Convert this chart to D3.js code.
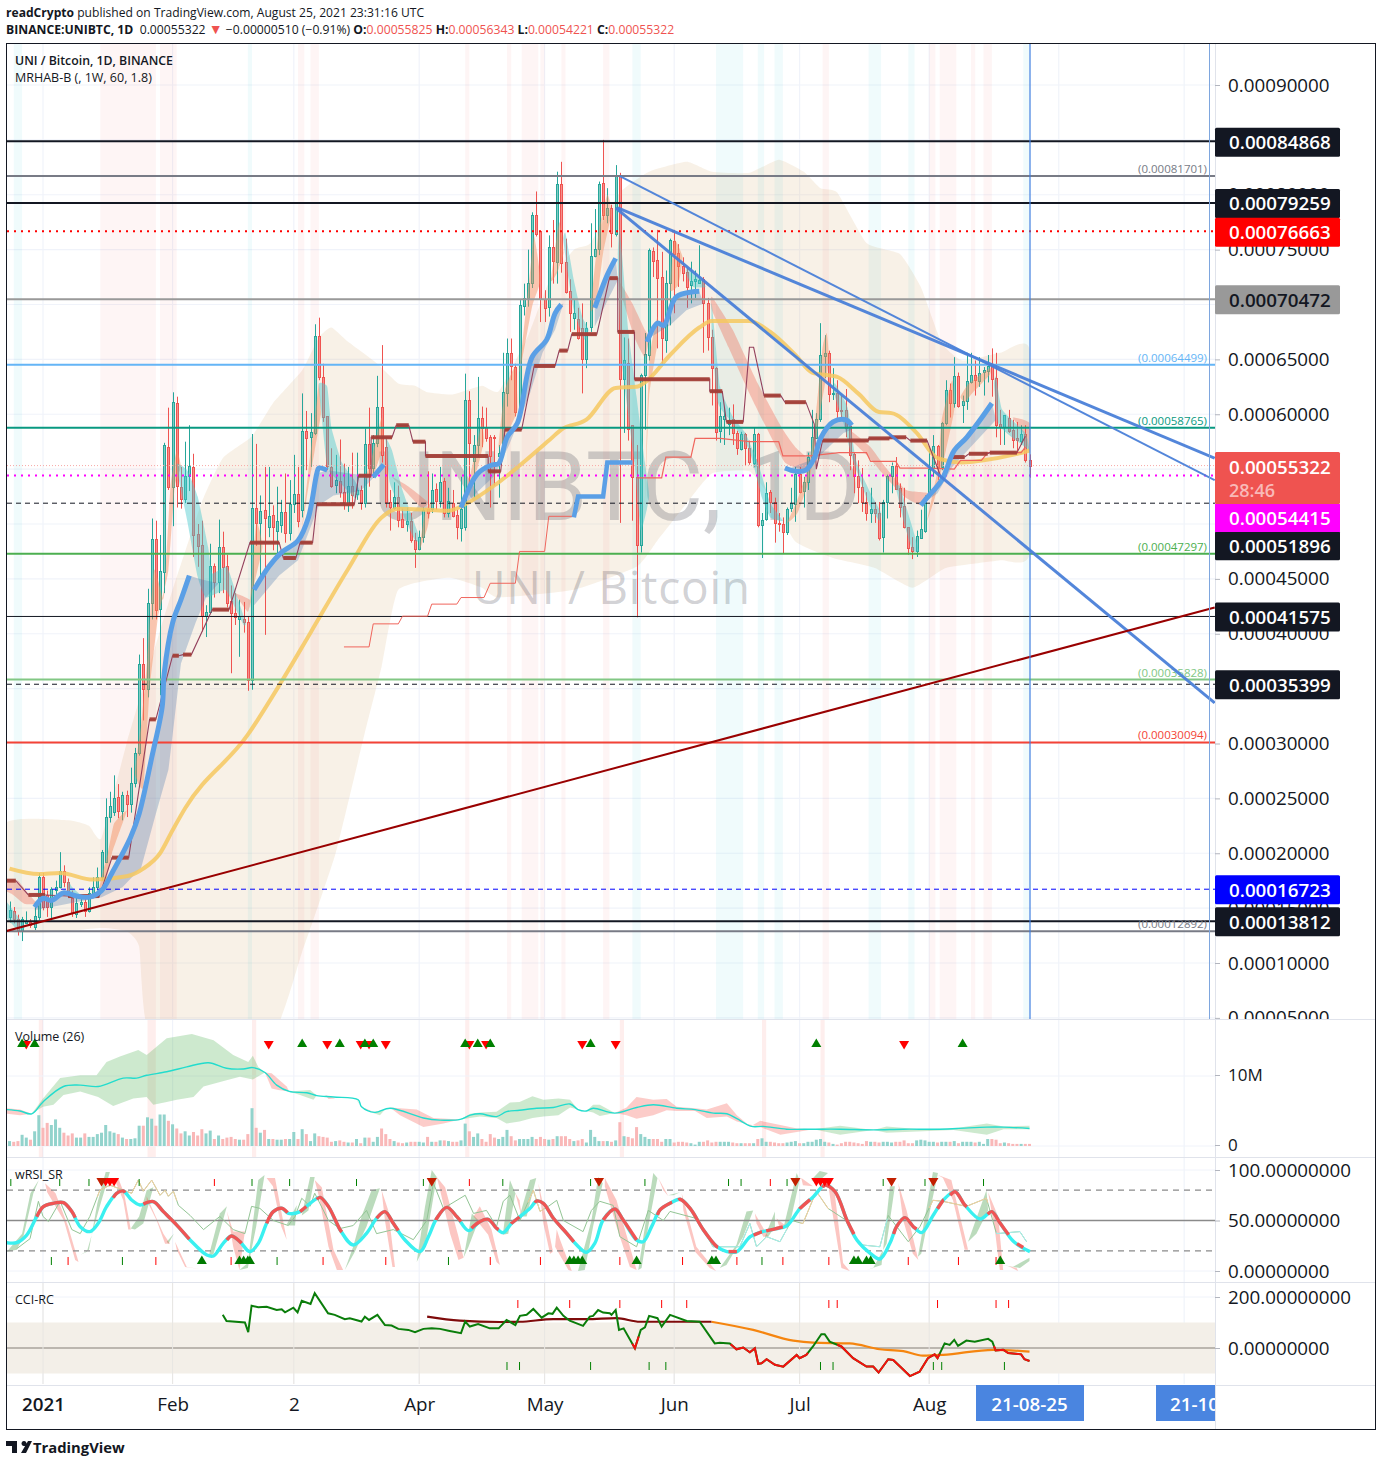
<!DOCTYPE html>
<html><head><meta charset="utf-8">
<script src="https://cdn.jsdelivr.net/npm/d3@7/dist/d3.min.js"></script>
<style>
html,body{margin:0;padding:0;background:#fff}
svg{display:block}
text{font-family:"Open Sans","Noto Sans",sans-serif}
</style></head><body><svg id="c" width="1382" height="1466"></svg>
<script>
// ---------- DATA (prices in units of 0.00001 BTC, day 0 = 2021-01-01) ----------
const firstDay=-8;
const opens=[14.2,14.7,14.0,12.9,13.6,13.7,13.3,14.2,
17.8,16.2,15.1,16.6,16.9,18.4,17.4,15.9,14.5,15.4,15.6,14.8,16.3,16.9,17.8,19.2,23.3,23.7,25.1,23.8,25.3,24.5,26.4,29.1,37.2,35.0,42.8,48.6,42.2,45.6,57.0,53.4,
61.0,53.4,52.3,54.4,55.2,49.1,48.1,41.6,42.0,46.2,44.7,47.9,46.2,43.0,41.9,41.3,41.3,41.1,35.8,51.5,50.1,51.3,49.7,50.8,49.4,49.9,51.1,49.2,51.8,52.7,
51.3,58.5,57.9,58.3,67.1,63.4,59.8,55.2,53.5,53.9,52.9,51.9,53.5,52.7,53.1,51.9,57.3,55.1,57.4,60.7,57.0,52.0,51.5,52.5,50.5,50.0,50.3,48.5,47.7,48.8,
51.4,51.4,53.2,52.1,53.9,51.0,51.9,50.8,49.7,49.7,61.3,55.7,57.2,59.7,58.8,57.9,57.9,56.2,56.5,62.0,65.6,64.3,60.2,69.9,70.6,72.0,78.2,76.7,70.5,69.7,
75.2,73.9,81.0,73.9,71.2,68.7,68.7,67.9,65.1,67.9,74.5,75.1,81.1,78.2,78.8,76.4,81.7,63.2,64.7,59.0,54.3,48.1,63.6,65.4,74.9,74.1,72.5,66.8,72.0,75.8,
74.7,73.5,73.0,71.7,72.1,71.9,72.3,70.1,67.0,64.2,58.4,59.5,59.1,59.6,58.3,56.8,58.2,56.9,55.6,58.2,49.9,50.4,52.9,52.0,50.1,50.0,49.3,51.4,51.9,54.6,
53.0,53.8,56.1,57.9,59.6,65.3,65.6,61.8,61.9,60.4,60.4,58.9,56.4,54.4,53.4,52.0,51.0,51.4,51.0,48.8,52.0,54.4,55.3,53.3,51.6,49.7,47.9,47.5,48.7,49.4,
52.5,55.1,57.1,55.2,59.2,62.2,61.0,63.5,60.8,61.2,63.0,63.6,63.1,63.8,63.9,64.4,63.3,59.1,58.8,59.7,58.6,57.8,57.6,58.2,55.825];
const highs=[15.6,15.1,14.4,14.2,14.7,14.0,15.1,18.2,
18.2,16.6,16.9,17.5,20.1,18.9,17.7,16.6,16.0,16.0,16.0,16.9,17.8,18.7,20.3,25.0,25.6,27.1,26.3,25.6,25.7,27.8,29.6,38.1,39.6,44.1,50.5,50.3,49.0,57.4,60.6,62.0,
61.6,55.2,57.5,59.0,56.4,50.0,50.3,42.6,48.2,46.4,50.4,49.3,47.2,44.4,43.7,43.1,42.9,41.6,58.2,57.3,52.6,55.2,55.2,51.7,53.4,52.2,54.6,54.0,56.3,55.2,
61.9,60.3,60.1,68.2,68.8,64.6,59.8,56.9,56.3,57.7,55.5,55.2,56.5,56.5,53.5,58.7,60.6,58.1,63.5,66.3,57.8,53.1,53.8,53.5,51.4,51.5,51.0,49.2,49.4,51.5,
54.8,54.6,53.7,55.2,54.2,53.3,53.1,51.3,54.3,63.7,62.1,58.1,63.4,60.7,60.6,58.1,58.1,57.2,65.6,66.9,66.9,64.6,70.4,71.9,75.0,78.4,80.3,76.7,71.3,76.3,
77.7,82.1,83.0,76.0,72.3,70.4,69.7,70.1,68.4,77.4,78.7,81.2,85.0,80.6,79.1,82.7,82.0,67.0,66.9,59.0,57.2,63.7,67.4,75.1,75.2,76.8,74.8,73.1,76.0,76.8,
75.5,74.3,73.3,73.9,73.1,75.4,72.5,70.6,67.7,64.3,61.1,60.6,60.6,60.9,58.5,58.4,58.3,57.6,58.8,58.3,51.0,53.8,53.1,52.4,51.0,50.6,51.5,53.3,55.2,55.2,
54.3,56.5,60.4,60.1,68.3,67.2,65.8,64.2,63.1,61.7,62.3,59.0,56.5,55.8,55.1,52.9,53.3,52.0,52.0,52.2,54.5,55.6,56.1,53.7,53.3,49.7,48.8,49.4,51.3,52.6,
56.9,58.1,57.2,59.3,63.1,62.8,65.2,63.8,61.7,65.6,65.6,64.9,65.2,64.3,65.4,66.0,65.6,60.4,59.9,60.4,59.5,59.3,59.0,59.0,56.343];
const lows=[13.7,13.6,12.5,12.0,13.6,13.2,13.0,13.9,
14.8,14.2,13.9,16.0,16.8,16.9,16.0,14.2,14.1,15.1,14.2,14.6,16.2,16.6,17.5,19.1,22.8,23.4,23.2,23.0,23.3,23.7,26.0,28.9,32.1,34.2,41.3,41.3,34.4,43.7,53.1,49.8,
51.5,51.4,51.9,53.0,47.0,46.1,40.2,39.7,41.9,43.3,43.7,43.7,42.4,36.4,40.8,37.9,40.1,34.8,34.9,48.0,44.9,39.9,48.8,47.6,47.3,49.2,48.3,48.5,51.0,49.7,
50.6,54.9,55.2,58.1,63.1,59.3,54.9,53.3,52.8,52.4,51.3,51.1,51.4,52.2,51.3,51.5,53.4,54.2,57.0,55.6,51.5,49.4,51.3,49.7,49.7,49.3,48.3,46.0,47.6,48.3,
50.5,51.0,51.3,51.5,50.6,50.6,50.6,48.6,48.4,49.4,53.7,52.4,56.1,57.0,57.5,51.5,53.5,52.4,56.5,60.7,63.1,59.8,59.6,69.0,69.8,71.5,76.2,68.4,68.4,68.9,
71.9,71.9,72.9,71.0,67.5,67.7,66.8,61.9,64.2,67.5,74.3,74.5,77.7,77.4,75.2,76.2,50.1,58.3,57.6,50.3,41.5,47.4,58.6,64.9,72.5,66.0,64.6,65.6,68.1,69.2,
71.6,72.1,69.7,70.1,70.6,71.9,65.6,65.8,60.8,57.6,57.4,57.2,58.1,57.2,56.3,56.7,55.3,55.4,55.2,49.7,46.9,50.3,51.0,48.3,49.3,47.3,49.0,51.1,50.2,52.8,
51.5,53.1,56.0,57.8,59.3,63.3,61.1,61.3,59.5,59.7,57.9,54.9,52.8,51.9,51.1,50.3,50.1,50.1,48.5,47.4,50.5,52.8,53.1,50.6,49.6,47.2,46.8,47.0,48.7,49.2,
52.4,54.3,54.0,54.9,59.0,59.7,60.6,60.6,59.2,60.4,62.8,61.7,62.5,61.7,62.9,61.6,57.9,57.2,57.2,58.3,56.9,56.4,57.2,55.6,54.221];
const closes=[14.8,14.0,12.9,14.0,13.8,13.4,14.3,17.8,
15.1,15.1,16.7,16.9,18.4,17.4,16.5,14.5,15.5,15.6,14.8,16.4,16.9,17.8,20.1,23.3,24.3,25.0,23.8,25.3,24.5,26.4,29.1,37.2,34.9,42.8,48.6,42.1,45.7,57.2,53.4,61.1,
53.4,52.3,54.4,55.3,49.0,48.0,41.6,42.0,46.2,44.7,47.9,46.1,42.8,41.9,41.5,41.6,41.0,35.8,51.5,50.1,51.2,50.6,50.7,49.7,50.3,51.1,49.2,51.8,52.7,50.2,
58.5,57.9,58.4,67.1,63.4,59.8,55.2,53.5,54.0,52.9,51.9,53.5,52.7,53.1,51.9,57.3,55.1,57.4,60.7,56.3,52.0,51.5,52.5,50.4,49.8,50.3,48.6,47.7,48.8,51.3,
51.0,53.1,52.1,53.8,51.0,52.1,50.7,49.7,51.4,61.3,57.4,57.2,59.7,58.8,57.8,56.2,57.8,56.5,62.0,65.6,64.4,60.2,70.0,70.6,72.0,78.2,76.5,70.5,69.7,75.2,
73.9,81.0,73.8,71.2,69.2,69.2,67.0,65.1,67.9,74.4,75.1,81.0,78.2,78.8,76.5,81.7,63.2,64.9,58.7,54.3,48.1,63.6,65.5,75.0,74.0,72.5,66.9,72.0,75.9,74.6,
73.5,72.9,71.6,72.1,72.3,72.2,70.1,67.0,64.2,58.4,59.8,59.8,59.5,58.3,56.9,58.2,56.9,55.6,58.2,49.9,50.4,52.8,52.0,50.1,50.0,49.3,51.4,51.9,54.6,53.0,
53.8,56.1,57.9,59.6,65.4,65.6,61.9,61.9,60.3,60.3,58.8,56.3,54.4,53.4,52.0,51.0,51.4,51.0,48.7,52.0,54.4,55.3,53.2,51.6,49.7,47.8,47.5,48.9,49.5,52.4,
55.0,57.1,55.2,59.2,62.2,61.0,63.5,60.8,61.2,63.0,63.6,63.1,63.8,64.0,64.4,63.2,59.0,58.8,59.9,58.5,57.7,57.6,58.2,55.8,55.322];
const volumes=[.7,.6,.7,1.6,1.2,.9,2.1,4.4,
2.6,3.3,3.0,3.8,2.6,1.9,1.5,1.8,1.2,1.2,1.8,1.3,1.3,1.7,1.9,3.0,2.1,1.9,1.7,1.2,1.0,1.0,1.1,2.9,2.9,4.1,3.9,2.9,4.5,4.5,3.6,3.1,
2.5,1.8,2.1,1.5,2.0,1.5,2.4,1.8,2.2,1.0,1.5,1.0,1.2,1.3,1.0,.9,.9,1.7,5.4,2.6,1.9,2.3,1.0,1.0,.9,.9,1.0,1.0,2.0,1.0,
2.4,1.7,.7,1.8,1.4,1.3,1.2,.6,.7,.8,.6,.5,.5,1.0,.4,1.2,1.2,.6,1.3,2.5,1.7,1.0,.7,.5,.4,.5,.6,.6,.6,.5,
1.3,.6,.6,.8,.8,.7,.6,.6,.8,3.2,2.1,1.3,1.8,1.0,.6,1.7,1.2,1.0,1.3,2.3,1.4,.8,1.0,1.0,1.0,1.3,1.0,1.3,1.0,.9,
1.0,1.4,1.4,1.4,1.0,.7,.8,1.0,.5,2.3,1.3,.7,.7,.7,.6,.8,3.4,1.4,1.3,1.1,2.7,1.7,1.3,1.0,1.0,1.0,.6,1.0,1.0,.5,
.6,.6,.5,.4,.2,.6,.6,.8,.5,.6,.6,.6,.6,.5,.4,.4,.4,.4,.4,1.0,1.1,.6,.6,.5,.4,.4,.5,.6,.7,.4,
.4,.6,.6,.9,1.0,.6,.5,.3,.2,.4,.6,.6,.5,.4,.3,.7,.6,.6,.5,.6,.6,.5,.6,.6,.8,.4,.4,.8,.9,.8,
.6,.6,.5,.6,.6,.6,.7,.4,.6,.6,.6,.5,.6,.3,1.0,1.0,.9,.4,.5,.4,.3,.3,.3,.3,.3];

const emaLine=[[-8,18.6],[-1,18.1],[4,18.2],[12,17.6],[20,17.9],[24,18.6],[28,20],[31,22.1],[34,24.1],[49,30.8],[57,35.6],[64,40.1],[73,45.9],[81,50.6],[85,51.4],[92,51.3],[97,51.2],[101,51.8],[109,53.8],[121,57.6],[124,58.6],[130,59.5],[137,62.4],[142,62.5],[144,62.9],[150,65.4],[157,67.9],[160,68.5],[164,68.5],[169,68.5],[174,67.5],[180,65.4],[184,63.8],[190,63.4],[195,61.9],[200,60.2],[203,60.1],[209,58.3],[214,56],[220,55.6],[225,55.8],[232,56.3],[236,56.7]];
const bandUpper=[[-9,22.7],[6,23],[11,22.5],[14,21.4],[20,30],[27,39],[31,44],[38,52],[43,56],[50,58],[55,61],[62,64],[66,67],[69,67.9],[73,66.6],[80,64.6],[85,62.8],[89,62.6],[92,62],[98,61.8],[105,62.6],[109,62.1],[116,67.1],[121,72],[127,75],[131,75.6],[138,80.2],[145,82.1],[154,83],[160,82.1],[169,82],[176,83.2],[182,82.1],[186,80.6],[190,80.2],[197,75.6],[205,74.6],[210,71.6],[215,66.5],[220,64.9],[229,65.6],[236,65.9]];
const bandLower=[[236,47.3],[229,46.7],[216,46],[208,44.2],[199,46],[189,46.9],[180,48.4],[174,52.4],[169,54.8],[160,54.6],[154,51.9],[147,48.5],[142,46.1],[127,44],[109,43.3],[105,44.2],[97,45.1],[85,44],[81,37],[77,31],[70,20],[62,11],[54,3],[26,3],[23,11.5],[20,12.9],[14,13.2],[-9,13]];

const blueLines=[
[[-2,15.1],[0,15.9],[2,15.7],[5,16.4],[8,16.1],[11,16],[14,16.6],[16.5,18.2],[21,21.5],[23,23.6],[26,28.7],[28.5,33.3],[29,36.4],[31,41],[33,43.1],[35,45.3]],
[[50.5,44],[54,46.1],[57,47.4],[61,48.5],[63.5,50.6],[65.5,54.6],[66,55.1],[68,54.9]],
[[79,54.3],[81.5,55.4]],
[[100,51.5],[104,54.6],[107.5,55.4],[109,55.5],[111,57.9],[113.5,59.2],[117,65.2],[120.5,66.8],[122.5,69.2],[124,70]],
[[132,69.7],[135,72.7],[137,74.2]],
[[144.5,66.6],[147,68.3],[148.5,68.1],[151.5,70.7],[157,71.2]],
[[177.5,55.1],[180,54.8],[182.5,54.9],[184.5,56],[186,57.8],[189,59.3],[192,59.5],[193.5,59]],
[[210,51.7],[211.5,52.4],[215,54],[218,56.7],[221,57.9],[227,61]]];
const blueSteps=[[127,50.6],[128,52.5],[134,52.5],[135,55.6],[141,55.6]];
const blueShades=[
[[-2,15.1],[0,15.9],[2,15.7],[5,16.4],[8,16.1],[11,16],[14,16.6],[16.5,18.2],[21,21.5],[23,23.6],[26,28.7],[28.5,33.3],[29,36.4],[31,41],[33,43.1],[35,45.3],[37.5,45],[42,44.6],[39,43.3],[36.5,41],[33,37.3],[31.5,32.4],[30,27.6],[27,23.6],[23.5,18.7],[19,16.9],[14,16],[-2,14.8]],
[[50.5,44],[54,46.1],[57,47.4],[61,48.5],[63.5,50.6],[65.5,54.6],[68,54.9],[79,54.3],[81.5,55.4],[81.5,55.2],[76,53],[69.5,52.6],[66,51.7],[61,46.7],[56.5,45.3],[50.5,42.6]],
[[100,51.5],[104,54.6],[107.5,55.4],[109,55.5],[111,57.9],[113.5,59.2],[117,65.2],[120.5,66.8],[122.5,69.2],[124,70],[124.5,70.1],[122.5,67.7],[119.5,65.6],[116.5,61.9],[111.5,57.2],[108,54.4],[102,52.2],[100,51.3]],
[[132,69.7],[135,72.7],[137,74.2],[137.5,72.2],[135.5,70.7],[132,68]],
[[144.5,66.6],[147,68.3],[148.5,68.1],[151.5,70.7],[157,71.2],[158,70.1],[154,69.5],[150,68.1],[144.5,66.8]],
[[177.5,55.1],[180,54.8],[182.5,54.9],[184.5,56],[186,57.8],[189,59.3],[192,59.5],[193.5,59],[193.5,58.6],[191.5,58.3],[185.5,56.1],[177.5,54.9]],
[[210,51.7],[211.5,52.4],[215,54],[218,56.7],[221,57.9],[227,61],[228,59.5],[217.5,55.2],[214,52.8]]];
const tealShades=[
[[-9,15.7],[-4.5,13.4],[-5.5,12.8],[-9,14.3]],
[[6,17.5],[7,16.9],[9,16.2],[9,15.9],[6,16.3]],
[[32,55.5],[34.5,54.9],[37,52.5],[39.5,47.9],[40.5,45.5],[44,46.1],[46.5,43.3],[48.5,41],[48,40.8],[45,43.1],[43.5,44],[39,43.3],[37,45.2],[34.5,50.3],[32.5,54]],
[[66,62.8],[68,62.5],[69,58.8],[71.5,55.6],[74.5,54],[76,52.8],[74.5,52.4],[70.5,54],[68,55.2],[66.5,60.4]],
[[82,57.9],[83.5,56.7],[86,53.1],[89.5,49.4],[90,48.5],[89,48.5],[86,51],[83,53.7],[82,57.4]],
[[125,76.5],[127,72.2],[129,68.9],[130.5,67.7],[129.5,66.8],[127,69.5],[125.5,72.9],[124.5,75.9]],
[[138,76.8],[140,67.7],[142,61.6],[144,55.6],[145,52.5],[143,49.4],[141.5,55.6],[138.5,64.7],[137.5,73.8]],
[[154,73.4],[157,72.5],[158.5,71.6],[155.5,71.6],[154,72.7]],
[[160,70.1],[162,62.5],[165,59.8],[168,58.3],[171,55.6],[174,51.9],[177,50.3],[174,50.6],[172,52.4],[169,56.7],[165,59.2],[161.5,61],[160,67]],
[[189.5,62.8],[192.5,60.6],[194.5,55.8],[198,52.8],[200.5,51],[200,50.3],[197.5,51.9],[193.5,56.1],[191.5,59.2],[189,62.2]],
[[205,53.4],[207.5,50.3],[209.5,47.6],[208,47.6],[206,50.1],[204,53.4]],
[[228,63.4],[229.5,60.4],[235,58.3],[236,56.7],[235,57],[230.5,58.3],[228.5,59.2],[227.5,62.7]]];
const salmonShades=[
[[-9,17.5],[-6,17.5],[-3.5,16.3],[-1.5,15.4],[-4.5,15.4],[-7.5,16.3],[-9,16.6]],
[[46,43.7],[49.5,43.1],[49,42],[46.5,43.3]],
[[83.5,54.3],[87.5,53.4],[92,52],[90.5,51.5],[85,53.7]],
[[138,72],[141,70.1],[144,67.7],[145,67],[144,65.2],[141.5,67],[138.5,70.7]],
[[160,70.7],[165,67.7],[171,62.8],[177,58.6],[180,57],[184,55.6],[182.5,54.9],[177.5,55.6],[172.5,59.2],[169,61.9],[164,66.1],[160,69.5]],
[[193.5,58.4],[198,57],[201.5,55.2],[206.5,53.1],[212,52.8],[210,51.7],[206,52.5],[201.5,54.3],[197.5,56.1],[193.5,57.6]],
[[232,59.7],[236,59.2],[236,56.5],[234.5,58.3]]];
const orangeShades=[
[[13,16],[14,17.8],[15.5,20],[17,22.7],[20,23.9],[19,22.7],[16.5,20],[15,17.3]],
[[22,27.3],[23.5,31.8],[25,37.9],[26.5,45.8],[28.5,43.3],[27.5,41.5],[25.5,34.9],[24,26]],
[[29,43.7],[30.5,53.4],[32,56.7],[33,55.2],[31.5,53.4],[30,45.8],[28.5,43.2]],
[[49.5,42.4],[51,50.1],[52.5,47.9],[50,43.7]],
[[62,49.7],[63.5,54.9],[65,59.5],[66,62.8],[66.5,60.1],[65,56.7],[63.5,53.4]],
[[77,54],[78.5,55.8],[81,59.7],[81.5,57.4],[79.5,54.9]],
[[90,47.6],[91.5,51.3],[93,51.9],[92,49.7]],
[[101,52.2],[103.5,56.7],[105,59.2],[105.5,57.6],[104,55.2]],
[[109,57],[110.5,62.2],[113,64.3],[113.5,60.4],[111.5,58.6]],
[[114,63.8],[116.5,72.9],[117.5,76.2],[119,72.2],[117,69.8]],
[[121.5,72.2],[123.5,77.5],[124.5,74.7],[123,72.9]],
[[131,69.5],[133,76.8],[135,80],[136,78.4],[134,74.7],[132.5,70.4]],
[[144,51.5],[145,64.7],[147,68.9],[147,66.5],[145,61.6]],
[[150,71.3],[151,75.9],[153,74.3],[152,71.8]],
[[178,50.1],[180.5,52.2],[183.5,55.8],[185,60.4],[186.5,66.1],[187.5,67.4],[188,64.9],[186,60.4],[183.5,54.3],[180.5,51]],
[[211.5,50.3],[214,54.9],[215,59.5],[217.5,63.1],[218,60.4],[216,56.7],[213.5,52.6]],
[[219.5,61.6],[221.5,62.8],[226.5,64.2],[226.5,63.6],[222.5,62],[220.5,61.1]]];
// trailing stop plateaus: [day from, day to, price]
const stopFlats=[[-9,-6.5,17.5],[-3.5,.5,16.2],[6,13.5,16.1],[16.5,20.5,19.6],[25.5,27,32.2],[31,32.5,38],[33.5,35.5,38.1],[40.5,44.5,42.2],[49.5,56.5,48.3],[57.5,60.5,46.9],[61.5,64.5,48.3],[65.5,74.5,51.8],[75.5,78.5,54.4],[78.5,83.5,57.9],[84.5,87.5,59],[88.5,91.5,57.5],[91.5,106.5,56.2],[106.5,109.5,54.8],[110.5,114.5,58.6],[117.5,122.5,64.4],[123.5,125.5,65.8],[126.5,132.5,67.3],[135.5,137.5,72.4],[137.5,141.5,67.5],[141.5,159.5,63.2],[159.5,162.5,62.1],[163.5,167.5,59.3],[172.5,176.5,61.7],[177.5,182.5,61.1],[186.5,197.5,57.6],[197.5,202.5,57.8],[202.5,206.5,57.9],[207.5,211.5,57.6],[217.5,220.5,56.1],[221.5,226,56.4],[226.5,233,56.5]];
const stopExtras=[[169,66.1],[170,66.1],[184.5,59.1],[185,55],[215,54.1],[235,58]];
const redStep=[[72,38.8],[78,38.8],[79,40.9],[85,40.9],[86,41.6],[92,41.6],[93,42.7],[99,42.7],[100,43.3],[105.5,43.3],[107,44.6],[113,44.6],[114,47.5],[120,47.5],[121,50.7],[127,50.7]];
const redStep2=[[142,54.2],[148,54.2],[149,56.1],[155,56.1],[156,57.8],[162,57.8],[169,57.5],[176,57.5],[177,56.2],[183.5,56.2],[190.5,56.5],[197,56.5],[198,55.7],[204,55.7],[205,55.1],[212,55.1],[218,55],[219.5,55.8],[224.5,55.8],[226,56.5],[234,56.5],[235,57]];
const levelRows=[[84.868,'#131722',2,''],[81.701,'#787b86',2,''],[79.259,'#131722',2,''],[76.663,'#ff0000',2,'2 5'],[70.472,'#999999',2,''],[64.499,'#64b5f6',2,''],[58.765,'#089981',2,''],[55.322,'#f7a9a7',1,'1 2'],[54.415,'#ff00ff',2,'2 5'],[51.896,'#131722',1,'5 4'],[47.297,'#4caf50',2,''],[41.575,'#131722',1,''],[35.828,'#81c784',2,''],[35.399,'#131722',1,'5 4'],[30.094,'#f44336',2,''],[16.723,'#0000ff',1,'5 4'],[13.812,'#131722',2,''],[12.892,'#787b86',2,'']];
const levelNotes=[[81.701,'(0.00081701)','#787b86'],[64.499,'(0.00064499)','#64b5f6'],[58.765,'(0.00058765)','#089981'],[47.297,'(0.00047297)','#4caf50'],[35.828,'(0.00035828)','#81c784'],[30.094,'(0.00030094)','#f44336'],[12.892,'(0.00012892)','#787b86']];
const trendThick=[[[137.5,78.8],[280.3,56]],[[137,78.8],[280.3,33.7]]];
const trendThin=[[[138,81.7],[280.3,54]]];
const trendSupport=[[-8.9,12.9],[280.3,42.4]];
const priceTicks=[5,10,15,20,25,30,35,40,45,50,55,60,65,70,75,80,85,90];
const monthTicks=[[0,'2021'],[31,'Feb'],[60,'2'],[90,'Apr'],[120,'May'],[151,'Jun'],[181,'Jul'],[212,'Aug']];
const extraGridDays=[243,273];
// x-ranges of the highlight stripes, in days
const pinkStripes=[[13.7,27],[28,32],[61,62.5],[64,66],[101,102],[111,112],[114.5,118.5],[119,120],[124,125],[134,135.5],[186.5,188],[212,213.5],[214.5,218.5],[222,223],[225,227]];
const cyanStripes=[[-7,-5],[49,50],[141,143],[161,167.5],[171,172.5],[175,177],[197.5,200.5],[207,208.5],[234.5,236]];
const volStripes=[[-1,0],[25,27],[50,51],[101,102],[138,139],[172,173],[186,187]];
const volGreenPolys=[
[[-2.7,4.6],[0,6.8],[4.1,9.7],[8.9,10.1],[12.8,10.1],[15.2,12],[18.4,12.8],[22.8,13.7],[24.8,13],[29.6,15.4],[35.6,16],[40.8,15.1],[45.5,13],[49.1,12],[50.2,12.9],[51.5,11.3],[53.1,10.5],[50.2,9.5],[47.1,9.9],[43.9,9.4],[38.4,8.5],[36,7],[32,6.6],[29.6,6.3],[26.4,5.9],[24.8,7],[21.6,6.8],[16.8,5.7],[13.2,7],[8.9,7.8],[4.9,7.3],[2.5,5.9],[0,5.6]],
[[58.9,7.8],[63.9,8],[65.5,7.2],[64.7,6.6],[61.5,7.3]],
[[74.7,7],[76.2,5.6],[75.4,6.2]],
[[78.6,4.8],[80.6,4.4],[81.8,5.2]],
[[99.8,3.8],[102.2,4.6],[104.5,4.8],[108.5,4.9],[111.7,6.2],[114,6.3],[117.1,7.1],[119.7,6.6],[123.3,6.8],[126.1,6.6],[128,5.2],[126.1,5.5],[123.3,4.4],[119.7,4.2],[117.1,4],[114,3.5],[110.9,3.2],[108.5,4],[104.5,4.2]],
[[130,5],[131.6,5.9],[133.2,5.9],[136.8,4.7],[133.2,4.3],[131.6,4.8]],
[[184.3,2.4],[190.7,2.9],[198.7,2.3],[201.8,2.8],[209.8,2.4],[217.8,2.5],[225.8,3.2],[229.8,2.8],[236,2.9],[236,2.4],[229.8,2.4],[225.8,1.6],[217.8,2.3],[201.8,1.9],[198.7,2.3],[190.7,1.6]]];
const volPinkPolys=[
[[-8.7,5.4],[-5.5,5.2],[-2.7,4.6],[-5.5,4.4],[-8.7,4.6]],
[[53.1,10.5],[54.7,10.4],[58.3,8.5],[58.9,7.8],[56.3,8],[54.7,8.2]],
[[67.5,7.3],[69.9,6.8],[68.3,6.7]],
[[76.2,5.6],[79.4,4.8],[78,5]],
[[83,5.5],[89.4,5.2],[93.4,4],[99.8,3.8],[95.8,3.2],[91,2.7],[85.4,4.4]],
[[136.8,4.7],[139.6,5.5],[142,7],[146,6.6],[149.2,6.7],[151.6,5.6],[156,5.4],[158.8,5.2],[163.6,6.1],[166,4.4],[169.2,2.8],[171.6,3.6],[176.4,3],[180.4,2.5],[184.3,2.4],[176.4,1.6],[171.6,2.7],[166,3.5],[163.6,4.2],[158.8,4],[156,5],[151.6,5],[149.2,5.1],[146,4.4],[142,3.9],[139.6,4.4]]];
const volMA=[[-8.7,5.2],[-5.5,5],[-2.7,4.6],[0,6.3],[4.9,8.5],[8.9,8.7],[13.2,8.5],[19.2,9.7],[22.4,9.7],[24.8,10.1],[29.6,10.6],[34.4,11.3],[39.6,11.9],[43.9,11.1],[47.9,11],[50.2,11.2],[53.1,10.5],[55.9,8.7],[58.9,7.8],[63.1,7.6],[65.5,7.2],[69.5,7],[75.4,6.6],[76.2,5.6],[79.4,4.8],[83,5.4],[91,4],[95,3.7],[99.8,3.8],[102.2,4.4],[104.5,4.6],[108.5,4.2],[110.9,4.9],[114,5.1],[118.1,5.4],[122.1,5.5],[126.1,6],[128,5.2],[130,5],[131.6,5.4],[136.8,4.7],[142,5.5],[146,5.9],[151.6,5.4],[156,5.2],[160.4,4.7],[163.6,4.6],[166,3.9],[169.5,2.8],[172.3,2.8],[177.9,2.4],[184.3,2.4],[190.7,2.4],[198.7,2.3],[205.8,2.4],[213.8,2.4],[218.6,2.5],[225.8,2.7],[229.8,2.7],[236,2.5]];
const volUpDays=[-5,-2,62,71,77,79,101,104,107,131,185,220];
const volDownDays=[-4,54,68,76,78,82,102,106,129,137,206];

const rsiMain=[[-8.7,28.1],[-6.3,28.1],[-3.9,35.6],[-1.5,53.8],[.1,63.7],[2.5,67],[4.9,67.7],[6.9,58.8],[8.9,43.9],[11.2,39],[13.2,47.2],[15.2,63.7],[17.6,76.9],[19.2,79.2],[21.2,70.3],[23.2,65.4],[26.4,68.7],[28.8,58.8],[32,45.5],[35.2,30.7],[39.2,15.8],[40.8,14.9],[43.1,27.4],[45.1,34.7],[47.1,29.1],[49.5,19.2],[51.5,27.4],[53.5,47.2],[55.1,58.8],[57.1,62.1],[58.7,57.1],[61.5,58.8],[63.9,67],[66.3,72.9],[68.3,63.7],[71.1,40.6],[74.2,25.8],[77.4,37.3],[79.8,52.2],[81.8,58.8],[83.8,47.2],[86.6,30.7],[90.2,19.2],[92.2,34],[94.2,52.2],[96.6,63],[99,53.8],[101.8,40],[104.5,48.9],[106.5,51.2],[108.5,42.3],[110.1,38],[112.1,47.2],[114.1,53.8],[116.5,62],[118.1,69.3],[119.7,67],[122.1,52.2],[125.3,37.3],[127.3,27.4],[130,18.5],[132,27.4],[134,50.5],[136.8,61.4],[138.8,50.5],[142,30.7],[143.6,29],[145.6,43.9],[147.6,60.4],[150,67],[152.4,71],[154.8,62],[158,40.6],[161.2,24.1],[163.6,19.2],[166,19.2],[169.2,34],[171.6,38.3],[174.7,41.3],[177.9,44.6],[181.1,62],[184.3,73.6],[187.1,85.1],[189.5,78.5],[192.3,50.5],[194.7,30.7],[197.9,17.5],[200.2,11.9],[202.6,27.4],[204.2,43.9],[206.2,52.8],[208.2,43.9],[210.2,38],[213,55.4],[215.4,70.3],[218.2,78.5],[220.5,65.4],[224.2,51.5],[227,58.8],[229,47.2],[232.2,29.1],[236.1,19.2]];
const rsiRed=[[-1.5,7.7],[16.8,19.6],[24,35],[44,47.5],[53.5,58.5],[61.5,63],[65.5,71.5],[79.8,85],[94,100],[102.5,109],[112,114],[117.7,127],[134,142],[147,150.5],[152,161.5],[164,166],[170,172],[173,177],[181,183.5],[186.5,194],[203.5,209],[214,215.5],[217,221],[226,231],[233,234.5]];
const rsiThin=[[-6.3,22],[-3.1,32],[-1.1,69],[0,54],[1.3,49],[4.1,69],[6.9,41],[8.9,37],[11.2,54],[13.6,80],[16,85],[21.2,77],[22.8,90],[24,79],[26,90],[28,75],[29.2,80],[30,74],[31.2,79],[32.4,65],[35.2,55],[38.4,41],[42.3,54],[45.5,41],[48.3,37],[49.9,64],[51.9,62],[55.1,50],[58.7,45],[60.3,54],[61.9,72],[63.9,64],[65,77],[68.3,50],[71,42],[74.2,45],[77.4,60],[79.8,37],[83.8,41],[88.6,31],[91.8,50],[93.4,87],[95.8,62],[101,75],[103,57],[106.1,60],[108.5,44],[110.1,69],[111.7,75],[114.1,50],[117.3,80],[118.9,59],[120.9,64],[122.9,70],[124.5,50],[129.2,39],[131.2,60],[133.2,69],[136.4,65],[138,34],[142,24],[144.8,60],[148.4,50],[150,59],[156.3,52],[160.3,24],[166.7,24],[169.1,47],[170.7,24],[173.1,34],[176.3,29],[179.1,50],[181.8,47],[185,79],[187.8,62],[192.2,50],[195.4,26],[200.2,24],[202.2,55],[207,29],[209.8,44],[212.9,70],[215.3,69],[220.9,64],[225.7,72],[228.1,37],[233.7,39],[235.3,29]];
const rsiThinOrange=[[13,32],[116,120],[181,188],[212,226]];
const rsiThinCyan=[[160,178],[194,202],[228,235.3]];
const rsiGreenPolys=[
[[-8.7,19],[-5,37],[-3,77],[-1,90],[-2.3,77],[-4.7,34],[-6.3,21]],
[[9,16],[11,21],[13,67],[15,98],[16,98],[13.6,64],[10.5,19]],
[[21,42],[23,54],[24.8,80],[26.4,83],[24,47],[22,41]],
[[29.6,29],[31.3,37],[30,27]],
[[39.6,14],[42.3,57],[44,64],[40.8,17]],
[[47,1],[49,8],[51.5,90],[53,95],[51,44],[49,3]],
[[58.3,46],[60.7,65],[60.3,45],[59,45]],
[[61.9,55],[63.9,93],[65,93],[63.5,60]],
[[72.2,1],[74.2,24],[76.2,54],[78.6,80],[80.6,82],[77.4,44],[74.6,19]],
[[89.4,9],[91.4,64],[93,100],[94.2,93],[91.8,34],[90.4,17]],
[[100.6,13],[102.6,57],[104.2,50],[101.8,24]],
[[110,36],[111.7,90],[113,77],[111.3,37]],
[[114,54],[116.5,90],[118,92],[115.7,54]],
[[128,0],[131.2,50],[132.8,93],[133.9,87],[131.6,44],[129.6,1]],
[[142.4,1],[144,44],[146,97],[147,92],[144.8,44],[143.2,3]],
[[149.6,75],[152.4,78],[150.8,75]],
[[161.9,3],[165.9,26],[168.3,59],[169.9,60],[167.5,34],[163.5,6]],
[[172.7,34],[175.1,59],[175.1,44],[173.5,34]],
[[177.1,42],[180.3,97],[181,90],[178.7,47]],
[[183.8,90],[185.8,99],[187.8,97],[185,87]],
[[197,1],[200.6,6],[202.6,84],[203.8,84],[201.8,27],[198.6,3]],
[[209.3,14],[212.9,98],[214.1,97],[211.7,50],[210.1,17]],
[[221.3,29],[225.7,80],[226.1,60],[223.3,37]],
[[229.3,6],[232,4],[233.7,8],[236,13],[236,10],[233.7,3],[230.9,5]]];
const rsiPinkPolys=[
[[.5,87],[3,77],[6,44],[8.5,9],[7.7,11],[5,50],[1,78]],
[[18,92],[19.4,77],[21,41],[20.4,41],[19.2,70],[17.5,87]],
[[24.8,74],[28.8,37],[30.4,27],[29.2,27],[27.2,50],[24.8,70]],
[[31.6,29],[34.4,4],[39.2,1],[37.6,2],[34,4],[32,21]],
[[44,59],[45.5,39],[48.3,39],[47,1],[45.5,24],[44.7,44]],
[[53.5,92],[55.5,92],[58.3,31],[57,44],[55,84]],
[[65,90],[66.7,83],[69.5,21],[71.8,1],[70.3,1],[68.3,24],[66,74]],
[[81,80],[82.6,60],[84.2,4],[85.8,4],[83.6,4],[81.8,50]],
[[94.2,93],[96.2,83],[99.4,34],[100.6,13],[99.4,11],[97.4,37],[95,80]],
[[103,54],[104.5,64],[107.3,41],[109.3,6],[108.5,9],[106.5,36]],
[[113,77],[114,70],[114.5,54]],
[[118.5,87],[120.5,50],[122,19],[121.3,17],[119.7,47]],
[[122.9,41],[123.7,31],[126.5,0],[125.7,1],[122.5,24]],
[[134.4,92],[137.2,70],[142,1],[140.4,4],[137.2,44],[134.4,84]],
[[147.2,92],[149.6,74],[148.4,80]],
[[152.8,77],[156.3,24],[161,0],[159.5,3],[156,19],[153.2,60]],
[[170.3,57],[173.5,34],[172.3,34],[170.7,47]],
[[175.5,52],[177.9,44],[176.3,42]],
[[181.4,92],[184.2,84],[181.8,85]],
[[187.8,87],[189.4,77],[191.4,8],[193,0],[191,3],[189.8,34],[188.6,64]],
[[204.6,87],[206.6,60],[209.4,11],[208.1,17],[205.8,50]],
[[214.1,95],[217.3,90],[221.3,21],[220.5,21],[217.7,70],[215.3,92]],
[[226.1,78],[228.5,54],[229.7,1],[228.9,1],[227.7,41]],
[[230.9,5],[233.3,0],[232.9,3]]];
const rsiTopGreen=[-7.7,4,11,23,50,59,75,91,110,131,144,164,167,178,201,211,225];
const rsiTopRed=[41,102,174];
const rsiLowGreen=[2,19,56,97,172];
const rsiLowRed=[6,27,45,67,82,107,119,138,153,166,177,188,207,219,228];
const rsiUpTri=[38,47,48,49,49.5,126,127,128,129,142,160,161,194,195,197,198,229];
const rsiDownTri=[14,15,16,17,93,133,180,185,186,187,188,203,213];
const rsiBrownTri=[14,93,133,180,203,213];

const cciLine=[[43,130],[43.9,106],[48.3,100],[49.1,62],[49.9,166],[51.5,160],[53.5,162],[55.9,149],[57.1,152],[57.9,140],[59.9,158],[60.9,140],[61.9,185],[64,173],[65,215],[68.2,136],[69.8,130],[72.2,113],[73.4,117],[76.2,104],[77,123],[78,110],[80,130],[81.8,90],[83.4,88],[85,75],[87.4,71],[89,62],[91,75],[93,77],[95,75],[97,68],[100,58],[101,104],[102.1,84],[104.1,94],[106.9,77],[109,77],[110.9,110],[113,90],[114.1,126],[115.7,130],[117.3,153],[119.3,119],[120.9,136],[121.9,134],[122.9,158],[124.5,126],[126,107],[129.2,87],[130.8,123],[131.6,126],[132.8,149],[134,139],[135.6,136],[136,130],[137,149],[137.8,71],[138.9,77],[141.6,-1],[143,71],[144,81],[145,126],[147,117],[148,84],[150,130],[154,106],[157.1,103],[160.7,18],[161.9,21],[164.3,18],[165.9,-5],[167.5,2],[169.1,-17],[170.3,-1],[171.1,-62],[171.9,-60],[173.1,-44],[175.1,-66],[177.1,-73],[180.3,-27],[181,-40],[182.6,-27],[184.2,6],[186.2,54],[187,54],[188.2,25],[191,6],[193.8,-40],[197,-73],[198.6,-73],[199.9,-96],[202.2,-44],[203.4,-47],[207.4,-110],[209.7,-93],[211.7,-40],[213.3,-25],[214,-40],[215.7,18],[216.9,12],[218,32],[218.9,8],[220.9,29],[222.9,25],[226.1,36],[227.1,25],[227.9,-10],[229.7,-7],[230.9,-20],[234,-25],[234.8,-44],[236,-51]];
const cciRed=[[141,142.5],[164.5,183],[190,214.5],[227.5,236]];
const cciMADark=[[91.9,123],[99.7,107],[109.3,102],[114.1,103],[122.1,113],[130,113],[137.2,117],[142.8,103],[150,103],[159.9,103]];
const cciMAOrange=[[159.9,103],[169.9,71],[179.5,29],[184.2,21],[193,18],[200.2,-5],[205.8,-12],[210.5,-30],[215.3,-27],[227.3,-7],[236,-14]];
const cciTopRed=[113.6,126,138,148,154,188,190,214,228,231];
const cciLowGreen=[111,114,131,145,149,186,189,213,215,230];

// price-axis flags: [price, background, text colour, vertical nudge of the flag]
const flags=[[84.868,'#131722','#fff',1],[79.259,'#131722','#fff',.5],[76.663,'#ff0000','#fff',1],[70.472,'#999999','#131722',.5],[41.575,'#131722','#fff',.5],[35.399,'#131722','#fff',.5],[16.723,'#0000ff','#fff',.5],[13.812,'#131722','#fff',.5],[51.896,'#131722','#fff',42.5]];
const headerParts=[['BINANCE:UNIBTC, 1D','#131722',700],['  0.00055322 ','#131722',400],['▼','#ef5350',700],[' −0.00000510 (−0.91%) ','#131722',400],['O:','#131722',700],['0.00055825 ','#ef5350',400],['H:','#131722',700],['0.00056343 ','#ef5350',400],['L:','#131722',700],['0.00054221 ','#ef5350',400],['C:','#131722',700],['0.00055322','#ef5350',400]];

// ---------- SCALES ----------
const svg=d3.select('#c');
const L=7,R=1215;
const x=d3.scaleLinear().domain([0,236]).range([43,1029.5]);
const y=d3.scaleLinear().domain([10,90]).range([963,85]);
const yV=d3.scaleLinear().domain([0,10]).range([1146,1076]);
const yR=d3.scaleLinear().domain([0,100]).range([1271,1170]);
const yC=d3.scaleLinear().domain([0,200]).range([1348,1297]);
const defs=svg.append('defs');
function clip(id,x0,y0,x1,y1){defs.append('clipPath').attr('id',id).append('rect').attr('x',x0).attr('y',y0).attr('width',x1-x0).attr('height',y1-y0);}
clip('cp',L,44,R,1019);clip('cv',L,1020,R,1157);clip('cr',L,1158,R,1282);clip('cc',L,1283,R,1384);clip('cb',L,1385,R,1429);clip('caxis',R,44,1375,1019);

const lineOf=(sy,curve)=>d3.line().x(d=>x(d[0])).y(d=>sy(d[1])).curve(curve||d3.curveLinear);
const polyOf=sy=>pts=>lineOf(sy)(pts)+'Z';
const softPoly=sy=>pts=>lineOf(sy,d3.curveCardinalClosed.tension(.55))(pts);
const gridColor='#f0f3fa';

// background of the whole figure
const gridG=svg.append('g');
const verticals=monthTicks.map(d=>d[0]).concat(extraGridDays);
[[44,1019],[1020,1157],[1158,1282],[1283,1384]].forEach(([a,b])=>{
  gridG.selectAll(null).data(verticals).join('line').attr('x1',d=>x(d)).attr('x2',d=>x(d)).attr('y1',a).attr('y2',b).attr('stroke',gridColor).attr('stroke-width',1.2);
});
gridG.selectAll(null).data(priceTicks).join('line').attr('x1',L).attr('x2',R).attr('y1',d=>y(d)).attr('y2',d=>y(d)).attr('stroke',gridColor).attr('stroke-width',1.2);

// ---------- PRICE PANE ----------
const P=svg.append('g').attr('clip-path','url(#cp)');
P.append('path').attr('d',softPoly(y)(bandUpper.concat(bandLower))).attr('fill','rgba(222,184,135,.2)');
P.append('text').attr('x',373).attr('y',520).attr('font-size',96).attr('textLength',488).attr('lengthAdjust','spacingAndGlyphs').attr('fill','rgba(100,100,110,.3)').style('font-family','Roboto,sans-serif').text('UNIBTC, 1D');
P.append('text').attr('x',472).attr('y',604).attr('font-size',46).attr('textLength',278).attr('fill','rgba(100,100,110,.3)').text('UNI / Bitcoin');
P.selectAll(null).data(pinkStripes).join('rect').attr('x',d=>x(d[0])).attr('width',d=>x(d[1])-x(d[0])).attr('y',44).attr('height',975).attr('fill','rgba(244,67,54,.05)');
P.selectAll(null).data(cyanStripes).join('rect').attr('x',d=>x(d[0])).attr('width',d=>x(d[1])-x(d[0])).attr('y',44).attr('height',975).attr('fill','rgba(0,188,212,.06)');

const days=opens.map((_,i)=>firstDay+i);
const up=i=>closes[i]>=opens[i];
const cG=P.append('g');
const cx=d=>Math.round(x(d))+.5;
cG.selectAll('line').data(days).join('line').attr('x1',d=>cx(d)).attr('x2',d=>cx(d)).attr('y1',(d,i)=>y(highs[i])).attr('y2',(d,i)=>y(lows[i])).attr('stroke',(d,i)=>up(i)?'#26a69a':'#ef5350').attr('stroke-width',1);
cG.selectAll('rect').data(days).join('rect').attr('x',d=>cx(d)-1).attr('width',2)
 .attr('y',(d,i)=>Math.round(y(Math.max(opens[i],closes[i])))+.5)
 .attr('height',(d,i)=>Math.max(1,Math.round(Math.abs(y(opens[i])-y(closes[i])))))
 .attr('stroke',(d,i)=>up(i)?'#26a69a':'#ef5350').attr('fill',(d,i)=>up(i)?'#7fcbc3':'#f58e8c');

[[orangeShades,'rgba(245,140,90,.45)'],[salmonShades,'rgba(236,90,70,.33)'],[tealShades,'rgba(70,200,205,.45)'],[blueShades,'rgba(70,120,175,.3)']].forEach(([s,c])=>{
  P.selectAll(null).data(s).join('path').attr('d',c.includes('175')?polyOf(y):softPoly(y)).attr('fill',c);
});
P.append('path').attr('d',lineOf(y,d3.curveMonotoneX)(emaLine)).attr('fill','none').attr('stroke','#f6c85f').attr('stroke-opacity',.85).attr('stroke-width',4).attr('stroke-linejoin','round');

// horizontal levels
const lvl=P.append('g');
lvl.selectAll('line').data(levelRows).join('line').attr('x1',L).attr('x2',R).attr('y1',d=>y(d[0])).attr('y2',d=>y(d[0])).attr('stroke',d=>d[1]).attr('stroke-width',d=>d[2]).attr('stroke-dasharray',d=>d[3]);
P.selectAll(null).data(levelNotes).join('text').attr('x',1207).attr('y',d=>y(d[0])-3).attr('text-anchor','end').attr('font-size',11.5).attr('fill',d=>d[2]).text(d=>d[1]);

// trailing step lines
P.append('path').attr('d',lineOf(y)(redStep)).attr('fill','none').attr('stroke','#f0655c').attr('stroke-width',1);
P.append('path').attr('d',lineOf(y)(redStep2)).attr('fill','none').attr('stroke','#f0655c').attr('stroke-width',1.2);
const stopPath=stopFlats.flatMap(f=>[[f[0],f[2]],[f[1],f[2]]]).concat(stopExtras).sort((a,b)=>a[0]-b[0]);
P.append('path').attr('d',lineOf(y)(stopPath)).attr('fill','none').attr('stroke','#93405c').attr('stroke-width',1.1);
P.selectAll(null).data(stopFlats).join('line').attr('x1',d=>x(d[0])).attr('x2',d=>x(d[1])).attr('y1',d=>y(d[2])).attr('y2',d=>y(d[2])).attr('stroke','#a33f38').attr('stroke-opacity',.95).attr('stroke-width',4);

// thick blue
P.selectAll(null).data(blueLines).join('path').attr('d',d=>lineOf(y,d3.curveCatmullRom)(d)).attr('fill','none').attr('stroke','#5a9fe6').attr('stroke-width',5).attr('stroke-linejoin','round');
P.append('path').attr('d',lineOf(y)(blueSteps)).attr('fill','none').attr('stroke','#5a9fe6').attr('stroke-width',4.5);

// trendlines
P.selectAll(null).data(trendThick).join('path').attr('d',d=>lineOf(y)(d)).attr('stroke','#4a7fd8').attr('stroke-opacity',.95).attr('stroke-width',3);
P.selectAll(null).data(trendThin).join('path').attr('d',d=>lineOf(y)(d)).attr('stroke','#4a7fd8').attr('stroke-opacity',.95).attr('stroke-width',2);
P.append('path').attr('d',lineOf(y)(trendSupport)).attr('stroke','#990000').attr('stroke-width',2);

// ---------- VOLUME PANE ----------
const V=svg.append('g').attr('clip-path','url(#cv)');
V.selectAll(null).data(volStripes).join('rect').attr('x',d=>x(d[0])).attr('width',d=>x(d[1])-x(d[0])).attr('y',1020).attr('height',137).attr('fill','rgba(244,67,54,.09)');
[1076,1146].forEach(v=>V.append('line').attr('x1',L).attr('x2',R).attr('y1',v).attr('y2',v).attr('stroke',gridColor));
V.selectAll(null).data(volGreenPolys).join('path').attr('d',polyOf(yV)).attr('fill','rgba(76,175,80,.28)');
V.selectAll(null).data(volPinkPolys).join('path').attr('d',polyOf(yV)).attr('fill','rgba(244,67,54,.27)');
V.selectAll('.vb').data(volumes).join('rect').attr('x',(d,i)=>x(days[i])-1.5).attr('width',3).attr('y',d=>yV(d)).attr('height',d=>yV(0)-yV(d)).attr('fill',(d,i)=>up(i)?'#92d3cc':'#f9b8b8');
V.append('path').attr('d',lineOf(yV,d3.curveCatmullRom)(volMA)).attr('fill','none').attr('stroke','#22dccd').attr('stroke-width',1.4);
const triUp=(sel,data,yp,c,s)=>sel.selectAll(null).data(data).join('path').attr('d',d=>`M${x(d)-s},${yp+4}L${x(d)},${yp-4.5}L${x(d)+s},${yp+4}Z`).attr('fill',c);
const triDown=(sel,data,yp,c,s)=>sel.selectAll(null).data(data).join('path').attr('d',d=>`M${x(d)-s},${yp-4}L${x(d)},${yp+4.5}L${x(d)+s},${yp-4}Z`).attr('fill',c);
triDown(V,volDownDays,1045,'#ff0000',5);
triUp(V,volUpDays,1043,'#008000',5);

// ---------- RSI PANE ----------
const Rr=svg.append('g').attr('clip-path','url(#cr)');
[100,0].forEach(v=>Rr.append('line').attr('x1',L).attr('x2',R).attr('y1',yR(v)).attr('y2',yR(v)).attr('stroke',gridColor));
Rr.selectAll(null).data(rsiGreenPolys).join('path').attr('d',polyOf(yR)).attr('fill','rgba(76,160,80,.38)');
Rr.selectAll(null).data(rsiPinkPolys).join('path').attr('d',polyOf(yR)).attr('fill','rgba(244,67,54,.3)');
Rr.append('line').attr('x1',L).attr('x2',R).attr('y1',yR(50)).attr('y2',yR(50)).attr('stroke','#8a8a8a').attr('stroke-width',1.4);
[80,20].forEach(v=>Rr.append('line').attr('x1',L).attr('x2',R).attr('y1',yR(v)).attr('y2',yR(v)).attr('stroke','#8a8a8a').attr('stroke-width',1.2).attr('stroke-dasharray','6 5'));
function sub(pts,a,b){
  const f=d3.scaleLinear().domain(pts.map(p=>p[0])).range(pts.map(p=>p[1]));
  const inner=pts.filter(p=>p[0]>a&&p[0]<b);
  return [[a,f(a)],...inner,[b,f(b)]];
}
Rr.append('path').attr('d',lineOf(yR)(rsiThin)).attr('fill','none').attr('stroke','#93c595').attr('stroke-width',1);
Rr.selectAll(null).data(rsiThinOrange).join('path').attr('d',d=>lineOf(yR)(sub(rsiThin,d[0],d[1]))).attr('fill','none').attr('stroke','#f6cfa0').attr('stroke-width',1);
Rr.selectAll(null).data(rsiThinCyan).join('path').attr('d',d=>lineOf(yR)(sub(rsiThin,d[0],d[1]))).attr('fill','none').attr('stroke','#a6f0f0').attr('stroke-width',1);
const cr=d3.curveCatmullRom;
Rr.append('path').attr('d',lineOf(yR,cr)(rsiMain)).attr('fill','none').attr('stroke','#3af0f0').attr('stroke-width',3.4);
Rr.selectAll(null).data(rsiRed).join('path').attr('d',d=>lineOf(yR,cr)(sub(rsiMain,d[0],d[1]))).attr('fill','none').attr('stroke','#f05454').attr('stroke-width',3.4);
const ticksAt=(sel,data,a,b,c)=>sel.selectAll(null).data(data).join('line').attr('x1',d=>x(d)).attr('x2',d=>x(d)).attr('y1',a).attr('y2',b).attr('stroke',c).attr('stroke-width',1);
ticksAt(Rr,rsiTopGreen,1179,1186,'#008000');ticksAt(Rr,rsiTopRed,1179,1186,'#ff0000');
ticksAt(Rr,rsiLowGreen,1257,1265,'#008000');ticksAt(Rr,rsiLowRed,1257,1265,'#ff0000');
triUp(Rr,rsiUpTri,1260,'#007a00',5);
triDown(Rr,rsiDownTri,1182,'#ff0000',5);
triDown(Rr,rsiBrownTri,1182,'rgba(120,70,0,.45)',5);

// ---------- CCI PANE ----------
const C=svg.append('g').attr('clip-path','url(#cc)');
C.append('line').attr('x1',L).attr('x2',R).attr('y1',yC(200)).attr('y2',yC(200)).attr('stroke',gridColor);
C.append('rect').attr('x',L).attr('width',R-L).attr('y',yC(100)).attr('height',yC(-100)-yC(100)).attr('fill','#f3efe8');
C.append('line').attr('x1',L).attr('x2',R).attr('y1',yC(0)).attr('y2',yC(0)).attr('stroke','#a8a39c').attr('stroke-width',1.3);
C.selectAll(null).data(verticals.filter(d=>d<236)).join('line').attr('x1',d=>x(d)).attr('x2',d=>x(d)).attr('y1',1283).attr('y2',1384).attr('stroke','#e8e6e2');
C.append('path').attr('d',lineOf(yC,d3.curveMonotoneX)(cciMAOrange)).attr('fill','none').attr('stroke','#f5850f').attr('stroke-width',2.2);
C.append('path').attr('d',lineOf(yC,d3.curveMonotoneX)(cciMADark)).attr('fill','none').attr('stroke','#7f0b0b').attr('stroke-width',2.2);
C.append('path').attr('d',lineOf(yC)(cciLine)).attr('fill','none').attr('stroke','#0a7d0a').attr('stroke-width',2);
C.selectAll(null).data(cciRed).join('path').attr('d',d=>lineOf(yC)(sub(cciLine,d[0],d[1]))).attr('fill','none').attr('stroke','#f50f0f').attr('stroke-width',2);
ticksAt(C,cciTopRed,1300,1308,'#ff0000');ticksAt(C,cciLowGreen,1362,1370,'#008000');

// vertical cursor lines
svg.append('line').attr('x1',x(236)+.5).attr('x2',x(236)+.5).attr('y1',44).attr('y2',1019).attr('stroke','#3f7fe0').attr('stroke-width',1.2);
svg.append('line').attr('x1',1209.5).attr('x2',1209.5).attr('y1',44).attr('y2',1019).attr('stroke','#7ea6de').attr('stroke-width',1);

// ---------- SEPARATORS ----------
[1019,1157,1282,1385].forEach(v=>svg.append('line').attr('x1',L).attr('x2',1375).attr('y1',v+.5).attr('y2',v+.5).attr('stroke','#e0e3eb').attr('stroke-width',1.2));
svg.append('line').attr('x1',R+.5).attr('x2',R+.5).attr('y1',44).attr('y2',1429).attr('stroke','#e0e3eb');

// ---------- AXES ----------
const axisStyle=g=>{g.select('.domain').remove();g.selectAll('line').attr('stroke','#b2b5be');g.selectAll('text').attr('fill','#131722').attr('font-size',18.8).attr('font-family','"Open Sans",sans-serif');};
const priceFmt=d=>(d*1e-5).toFixed(8);
svg.append('g').attr('clip-path','url(#caxis)').append('g').attr('transform',`translate(${R},0)`).call(d3.axisRight(y).tickValues(priceTicks).tickFormat(priceFmt).tickSize(5).tickPadding(8)).call(axisStyle);
svg.append('g').attr('transform',`translate(${R},-1)`).call(d3.axisRight(yV).tickValues([0,10]).tickFormat(d=>d?d+'M':'0').tickSize(5).tickPadding(8)).call(axisStyle).selectAll('text').attr('font-size',17);
svg.append('g').attr('transform',`translate(${R},0)`).call(d3.axisRight(yR).tickValues([0,50,100]).tickFormat(d=>d.toFixed(8)).tickSize(5).tickPadding(8)).call(axisStyle);
svg.append('g').attr('transform',`translate(${R},0)`).call(d3.axisRight(yC).tickValues([0,200]).tickFormat(d=>d.toFixed(8)).tickSize(5).tickPadding(8)).call(axisStyle);
const bottomAxis=svg.append('g').attr('transform','translate(0,1385)').call(d3.axisBottom(x).tickValues(monthTicks.map(d=>d[0])).tickFormat(d=>monthTicks.find(m=>m[0]===d)[1]).tickSize(0).tickPadding(13)).call(axisStyle);
bottomAxis.selectAll('text').filter(d=>d===0).attr('font-weight',600);

// date cursor labels
const b=svg.append('g').attr('clip-path','url(#cb)');
b.append('rect').attr('x',976).attr('y',1385).attr('width',108).attr('height',36).attr('fill','#4a85e0');
b.append('text').attr('x',x(236)).attr('y',1411).attr('text-anchor','middle').attr('font-size',18.8).attr('font-weight',600).attr('fill','#fff').text('21-08-25');
b.append('rect').attr('x',1156).attr('y',1385).attr('width',100).attr('height',36).attr('fill','#4a85e0');
b.append('text').attr('x',1170).attr('y',1411).attr('font-size',18.8).attr('font-weight',600).attr('fill','#fff').text('21-10-01');

// ---------- PRICE FLAGS ----------
const flag=svg.append('g');
flags.forEach(([p,bg,fg,nudge])=>{
  const cy=y(p)+nudge;
  flag.append('rect').attr('x',R).attr('y',cy-14.5).attr('width',125).attr('height',29).attr('rx',1.5).attr('fill',bg);
  flag.append('text').attr('x',1229).attr('y',cy+7).attr('font-size',18.8).attr('font-weight',600).attr('fill',fg).text((p*1e-5).toFixed(8));
});
flag.append('rect').attr('x',R).attr('y',452).attr('width',125).attr('height',52).attr('rx',1.5).attr('fill','#ef5350');
flag.append('text').attr('x',1229).attr('y',474).attr('font-size',18.8).attr('font-weight',600).attr('fill','#fff').text('0.00055322');
flag.append('text').attr('x',1229).attr('y',497).attr('font-size',18).attr('font-weight',600).attr('fill','#f9b9b8').text('28:46');
flag.append('rect').attr('x',R).attr('y',504).attr('width',125).attr('height',28).attr('fill','#ff00ff');
flag.append('text').attr('x',1229).attr('y',525).attr('font-size',18.8).attr('font-weight',600).attr('fill','#fff').text('0.00054415');

// ---------- TEXT ----------
const t=(s,xp,yp,size,weight,fill)=>svg.append('text').attr('x',xp).attr('y',yp).attr('font-size',size).attr('font-weight',weight).attr('fill',fill).text(s);
const head=svg.append('text').attr('x',6).attr('y',17).attr('font-size',12.1).attr('fill','#131722');
head.append('tspan').attr('font-weight',700).text('readCrypto');
head.append('tspan').text(' published on TradingView.com, August 25, 2021 23:31:16 UTC');
const head2=svg.append('text').attr('x',6).attr('y',34).attr('font-size',12.2).style('white-space','pre');
head2.selectAll('tspan').data(headerParts).join('tspan').attr('fill',d=>d[1]).attr('font-weight',d=>d[2]).attr('font-size',d=>d[0]==='▼'?14:null).text(d=>d[0]);
t('UNI / Bitcoin, 1D, BINANCE',15,65,12.3,600,'#131722');
t('MRHAB-B (, 1W, 60, 1.8)',15,82,12.5,400,'#131722');
t('Volume (26)',15,1041,12.5,400,'#131722');
t('wRSI_SR',15,1179,12.5,400,'#131722');
t('CCI-RC',15,1304,12.5,400,'#131722');

// frame and footer
svg.append('rect').attr('x',6.5).attr('y',43.5).attr('width',1369).attr('height',1386).attr('fill','none').attr('stroke','#131722').attr('stroke-width',1);
svg.append('path').attr('d','M6,1441h11v12h-5v-7h-6zM24,1441a2.5,2.5 0 1 1 -.01,0zM28,1441h4l-6,12h-5z').attr('fill','#131722');
t('TradingView',33,1453,14.8,700,'#131722');
</script></body></html>
